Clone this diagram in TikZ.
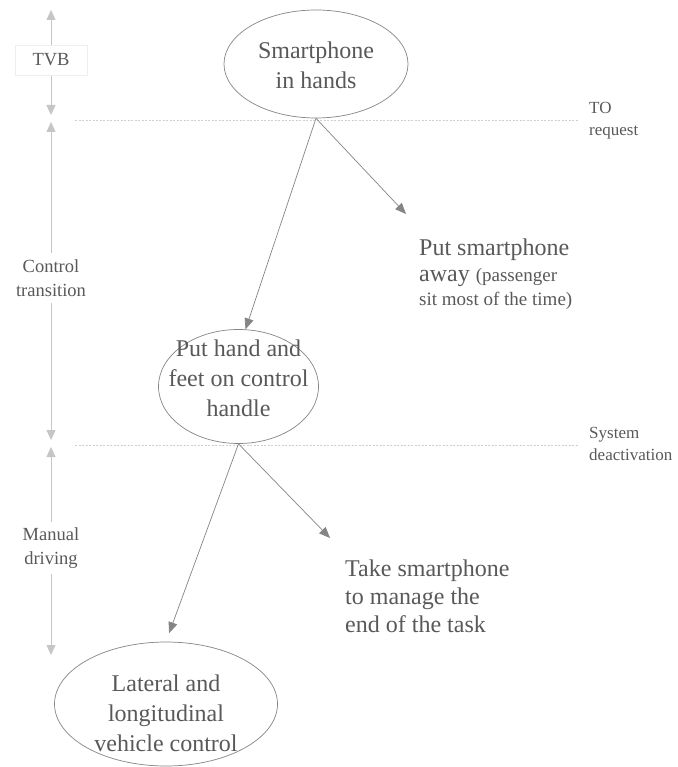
\documentclass[tikz,border=0pt]{standalone}
\usepackage{fontspec}
\setmainfont{Liberation Serif}
\usetikzlibrary{shapes.geometric,arrows.meta}
\definecolor{txt}{HTML}{595959}
\definecolor{ln}{HTML}{858585}
\definecolor{sidec}{HTML}{C6C6C6}
\definecolor{dotc}{HTML}{CFCFCF}
\definecolor{boxc}{HTML}{EEEEEE}
\newcommand{\smallsz}{\fontsize{19}{24}\selectfont}
\begin{document}
\begin{tikzpicture}[x=1pt,y=-1pt,
  state/.style={ellipse, draw=ln, line width=0.7pt, inner sep=0pt},
  statetext/.style={text=txt, align=center, inner sep=0pt, font=\fontsize{24}{30}\selectfont},
  flow/.style={draw=ln, line width=0.7pt, -{Triangle[length=11pt,width=9pt]}},
  sidearrow/.style={draw=sidec, line width=0.8pt, {Triangle[length=10pt,width=9pt]}-{Triangle[length=10pt,width=9pt]}},
  phase/.style={fill=white, text=txt, align=center, inner sep=6pt, font=\fontsize{18.5}{24}\selectfont},
  sepline/.style={draw=dotc, line width=0.8pt, dash pattern=on 2pt off 1.5pt},
  event/.style={text=txt, align=left, anchor=west, inner sep=0pt, font=\fontsize{17}{22}\selectfont},
  note/.style={text=txt, anchor=base west, inner sep=0pt, font=\fontsize{24}{28}\selectfont},
  smallnote/.style={font=\smallsz}
]
\useasboundingbox[fill=white] (0,0) rectangle (677,767);

% separators
\coordinate (s1a) at (75,120); \coordinate (s1b) at (578,120);
\coordinate (s2a) at (75,445); \coordinate (s2b) at (578,445);
\draw[sepline] (s1a) -- (s1b);
\draw[sepline] (s2a) -- (s2b);
\node[event] (to) at (589,121) {TO\\request};
\node[event] (sd) at (589,444) {System\\deactivation};

% left phase arrows
\coordinate (t1) at (51,10);  \coordinate (t2) at (51,115);
\coordinate (c1) at (51,122); \coordinate (c2) at (51,440);
\coordinate (m1) at (51,447); \coordinate (m2) at (51,655);
\draw[sidearrow] (t1) -- (t2);
\draw[sidearrow] (c1) -- (c2);
\draw[sidearrow] (m1) -- (m2);
\node[phase, draw=boxc, inner sep=0pt, minimum width=72pt, minimum height=30pt] (tvb) at (51,60) {TVB};
\node[phase] (ct) at (51,278) {Control\\transition};
\node[phase] (md) at (51,548) {Manual\\driving};

% states
\node[state, minimum width=184pt, minimum height=108pt,
  label={[statetext, yshift=-1pt]center:Smartphone\\in hands}] (e1) at (316,64) {};
\node[state, minimum width=160pt, minimum height=114pt,
  label={[statetext, yshift=8pt]center:Put hand and\\feet on control\\handle}] (e2) at (238.5,386.5) {};
\node[state, minimum width=223pt, minimum height=124pt,
  label={[statetext, yshift=-9pt]center:Lateral and\\longitudinal\\vehicle control}] (e3) at (166,704) {};

% outcome texts
\node[note] (pa1) at (419,255) {Put smartphone};
\node[note] (pa2) at (419,281) {away {\smallsz (passenger}};
\node[note, smallnote] (pa3) at (419,305) {sit most of the time)};
\node[note] (ts1) at (345,576) {Take smartphone};
\node[note] (ts2) at (345,604) {to manage the};
\node[note] (ts3) at (345,632) {end of the task};

% connectors
\coordinate (pa) at (406,214);
\coordinate (ts) at (330,538);
\draw[flow] (e1.south) -- (e2.83);
\draw[flow] (e1.south) -- (pa);
\draw[flow, shorten >=9pt] (e2.south) -- (e3.north);
\draw[flow] (e2.south) -- (ts);
\end{tikzpicture}
\end{document}
